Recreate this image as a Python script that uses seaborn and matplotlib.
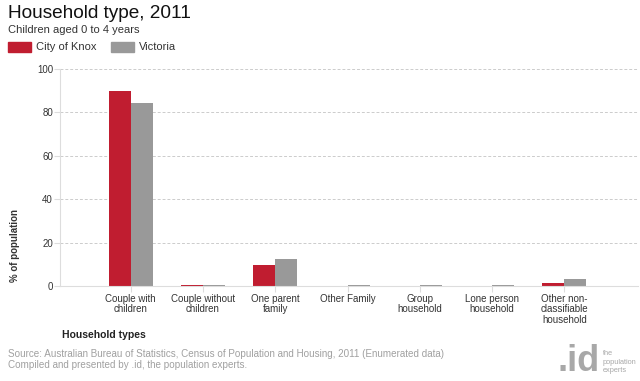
import matplotlib
matplotlib.use("Agg")
import matplotlib.pyplot as plt
import matplotlib.patches as mpatches
import seaborn as sns
import pandas as pd

categories = ["Couple with\nchildren", "Couple without\nchildren", "One parent\nfamily",
              "Other Family", "Group\nhousehold", "Lone person\nhousehold",
              "Other non-\nclassifiable\nhousehold"]
knox = [89.9, 0.5, 9.8, 0.0, 0.0, 0.0, 1.5]
victoria = [84.3, 0.4, 12.3, 0.4, 0.3, 0.3, 3.4]
series_names = ["City of Knox", "Victoria"]
colors = ["#C01D30", "#999999"]
yticks = [0, 20, 40, 60, 80, 100]

df = pd.DataFrame({
    "cat": categories * 2,
    "value": knox + victoria,
    "series": [series_names[0]] * len(categories) + [series_names[1]] * len(categories),
})

sns.set_theme(style="white")
plt.rcParams["font.family"] = ["Liberation Sans", "DejaVu Sans"]

fig = plt.figure(figsize=(6.4, 3.81), dpi=100)
ax = fig.add_axes([60 / 640, 1 - 286 / 381, 578 / 640, 217 / 381])

sns.barplot(data=df, x="cat", y="value", hue="series", palette=colors,
            width=0.61, saturation=1, ax=ax, legend=False, edgecolor="none")

ax.set_ylim(0, 100)
ax.set_xlim(-0.98, 7.02)
ax.set_yticks(yticks)
ax.set_yticklabels([str(t) for t in yticks], fontsize=7, color="#333333")
ax.tick_params(axis="x", labelsize=7, colors="#DDDDDD", labelcolor="#333333",
               length=4, width=0.8, direction="out", pad=1.5)
ax.tick_params(axis="y", colors="#DDDDDD", labelcolor="#333333",
               length=4, width=0.8, direction="out", pad=1, left=True)
ax.tick_params(axis="x", bottom=True)
for t in ax.get_xticklabels():
    t.set_verticalalignment("top")
    t.set_linespacing(1.1)

for y in yticks[1:]:
    ax.axhline(y, color="#CCCCCC", lw=0.7, ls=(0, (3, 2)), zorder=0)
for s in ["top", "right"]:
    ax.spines[s].set_visible(False)
ax.spines["left"].set_color("#DDDDDD")
ax.spines["bottom"].set_color("#DDDDDD")
ax.spines["left"].set_linewidth(0.8)
ax.spines["bottom"].set_linewidth(0.8)
ax.set_xlabel("")
ax.set_ylabel("")

# axis titles
fig.text(15 / 640, 1 - 246 / 381, "% of population", rotation=90, fontsize=7,
         fontweight="bold", color="#333333", ha="center", va="center")
fig.text(62 / 640, 1 - 335 / 381, "Household types", fontsize=7.5,
         fontweight="bold", color="#222222", ha="left", va="center")

# title and subtitle
fig.text(8 / 640, 1 - 13 / 381, "Household type, 2011", fontsize=13.7,
         color="#111111", ha="left", va="center")
fig.text(8 / 640, 1 - 30 / 381, "Children aged 0 to 4 years", fontsize=8,
         color="#333333", ha="left", va="center")

# legend
leg_x = [8, 111]
for lx, name, c in zip(leg_x, series_names, colors):
    fig.patches.append(mpatches.Rectangle((lx / 640, 1 - 52 / 381), 23 / 640, 10 / 381,
                                          transform=fig.transFigure, color=c))
    fig.text((lx + 28) / 640, 1 - 47 / 381, name, fontsize=8, color="#333333",
             ha="left", va="center")

# source
fig.text(8 / 640, 1 - 354 / 381,
         "Source: Australian Bureau of Statistics, Census of Population and Housing, 2011 (Enumerated data)",
         fontsize=7.1, color="#A0A0A0", ha="left", va="center")
fig.text(8 / 640, 1 - 365 / 381, "Compiled and presented by .id, the population experts.",
         fontsize=7.1, color="#A0A0A0", ha="left", va="center")

# logo
fig.text(600 / 640, 1 - 379 / 381, ".id", fontsize=26, fontweight="bold",
         color="#A8A8A8", ha="right", va="bottom")
fig.text(603 / 640, 1 - 362 / 381, "the\npopulation\nexperts", fontsize=5.3,
         color="#A8A8A8", ha="left", va="center", linespacing=1.25)

fig.savefig("out.png", dpi=100, facecolor="white")
